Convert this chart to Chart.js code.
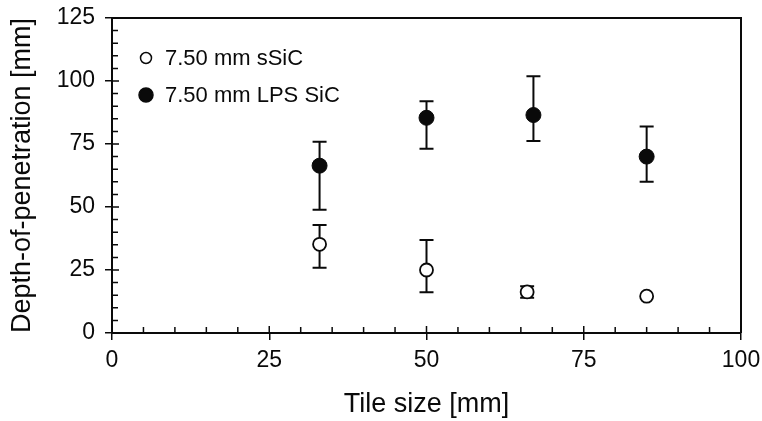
<!DOCTYPE html>
<html>
<head>
<meta charset="utf-8">
<script src="https://cdn.jsdelivr.net/npm/chart.js@4.4.0/dist/chart.umd.min.js"></script>
<style>
  html, body { margin: 0; padding: 0; background: #fff; }
  #wrap { width: 762px; height: 421px; }
</style>
</head>
<body>
<div id="wrap"><canvas id="myChart"></canvas></div>
<script>
// values
const sSiCLabel = '7.50 mm sSiC'
const sSiCTile = [33, 50, 66, 85]
const sSiCDop = [35.2, 25.0, 16.3, 14.6]
const sSiCHigh = [42.9, 36.9, 18.6, 14.6]
const sSiCLow = [25.9, 16.2, 14.0, 14.6]

const lpsLabel = '7.50 mm LPS SiC'
const lpsTile = [33, 50, 67, 85]
const lpsDop = [66.4, 85.4, 86.5, 70.0]
const lpsHigh = [75.9, 92.0, 101.9, 81.9]
const lpsLow = [48.9, 73.1, 76.2, 60.0]

const xTicks = [0, 25, 50, 75, 100]
const yTicks = [0, 25, 50, 75, 100, 125]
const minorStep = 5

const FONT = '"Liberation Sans", Arial, Helvetica, sans-serif'
const INK = '#0a0a0a'

const toPoints = function (xs, ys) {
    return xs.map((x, i) => ({ x: x, y: ys[i] }))
}

// error bars, drawn under the markers
const errorBars = {
    id: 'errorBars',
    beforeDatasetsDraw(chart) {
        const ctx = chart.ctx
        const xs = chart.scales.x
        const ys = chart.scales.y
        const sets = [
            [sSiCTile, sSiCHigh, sSiCLow],
            [lpsTile, lpsHigh, lpsLow]
        ]
        ctx.save()
        ctx.strokeStyle = INK
        ctx.lineWidth = 2
        sets.forEach(function (s) {
            s[0].forEach(function (x, i) {
                if (s[1][i] === s[2][i]) return
                const px = xs.getPixelForValue(x)
                const top = ys.getPixelForValue(s[1][i])
                const bot = ys.getPixelForValue(s[2][i])
                ctx.beginPath()
                ctx.moveTo(px, top)
                ctx.lineTo(px, bot)
                ctx.moveTo(px - 7, top)
                ctx.lineTo(px + 7, top)
                ctx.moveTo(px - 7, bot)
                ctx.lineTo(px + 7, bot)
                ctx.stroke()
            })
        })
        ctx.restore()
    }
}

// box on top/right and the inner minor ticks
const frame = {
    id: 'frame',
    afterDraw(chart) {
        const ctx = chart.ctx
        const a = chart.chartArea
        const xs = chart.scales.x
        const ys = chart.scales.y
        ctx.save()
        ctx.strokeStyle = INK
        ctx.lineWidth = 2
        ctx.beginPath()
        ctx.moveTo(a.left, a.top)
        ctx.lineTo(a.right, a.top)
        ctx.lineTo(a.right, a.bottom)
        ctx.stroke()

        ctx.lineWidth = 1.5
        ctx.beginPath()
        for (let v = xs.min; v <= xs.max; v += minorStep) {
            const px = xs.getPixelForValue(v)
            const len = v % 25 === 0 ? 7 : 6
            ctx.moveTo(px, a.bottom)
            ctx.lineTo(px, a.bottom - len)
        }
        for (let v = ys.min; v <= ys.max; v += minorStep) {
            const py = ys.getPixelForValue(v)
            const len = v % 25 === 0 ? 7 : 6
            ctx.moveTo(a.left, py)
            ctx.lineTo(a.left + len, py)
        }
        ctx.stroke()
        ctx.restore()
    }
}

// legend in the upper-left corner of the plot
const cornerLegend = {
    id: 'cornerLegend',
    afterDraw(chart) {
        const ctx = chart.ctx
        const a = chart.chartArea
        const items = [
            { text: sSiCLabel, fill: '#fff', r: 5.5, dy: 40 },
            { text: lpsLabel, fill: INK, r: 7, dy: 77 }
        ]
        ctx.save()
        ctx.font = '22px ' + FONT
        ctx.textBaseline = 'middle'
        items.forEach(function (it) {
            const cx = a.left + 34
            const cy = a.top + it.dy
            ctx.beginPath()
            ctx.arc(cx, cy, it.r, 0, Math.PI * 2)
            ctx.fillStyle = it.fill
            ctx.fill()
            ctx.lineWidth = 1.5
            ctx.strokeStyle = INK
            ctx.stroke()
            ctx.fillStyle = INK
            ctx.fillText(it.text, a.left + 53, cy + 1)
        })
        ctx.restore()
    }
}

const _init = function () {
    const pointer = document.getElementById('myChart').getContext('2d')
    return new Chart(pointer, {
        type: 'scatter',
        data: {
            datasets: [
                {
                    label: sSiCLabel,
                    data: toPoints(sSiCTile, sSiCDop),
                    pointRadius: 6.5,
                    pointBackgroundColor: '#fff',
                    pointBorderColor: INK,
                    pointBorderWidth: 1.8
                },
                {
                    label: lpsLabel,
                    data: toPoints(lpsTile, lpsDop),
                    pointRadius: 7.5,
                    pointBackgroundColor: INK,
                    pointBorderColor: INK,
                    pointBorderWidth: 1
                }
            ]
        },
        options: {
            responsive: true,
            maintainAspectRatio: false,
            animation: false,
            events: [],
            layout: { padding: { top: 18, right: 21, left: 0, bottom: 0 } },
            plugins: {
                legend: { display: false },
                tooltip: { enabled: false }
            },
            scales: {
                x: {
                    type: 'linear',
                    min: 0,
                    max: 100,
                    afterBuildTicks: s => { s.ticks = xTicks.map(v => ({ value: v })) },
                    afterFit: s => { s.height = 88; s.paddingLeft = 0; s.paddingRight = 0 },
                    grid: { drawOnChartArea: false, tickLength: 7, color: INK, lineWidth: 1.5 },
                    border: { color: INK, width: 2 },
                    ticks: { color: INK, font: { family: FONT, size: 23 }, padding: 7, maxRotation: 0 },
                    title: {
                        display: true,
                        text: 'Tile size [mm]',
                        color: INK,
                        font: { family: FONT, size: 27 },
                        padding: { top: 0, bottom: 0 }
                    }
                },
                y: {
                    type: 'linear',
                    min: 0,
                    max: 125,
                    afterBuildTicks: s => { s.ticks = yTicks.map(v => ({ value: v })) },
                    afterFit: s => { s.width = 112; s.paddingTop = 0; s.paddingBottom = 0 },
                    grid: { drawOnChartArea: false, tickLength: 7, color: INK, lineWidth: 1.5 },
                    border: { color: INK, width: 2 },
                    ticks: { color: INK, font: { family: FONT, size: 23 }, padding: 10 },
                    title: {
                        display: true,
                        text: 'Depth-of-penetration [mm]',
                        color: INK,
                        font: { family: FONT, size: 27 },
                        padding: { top: 6, bottom: 0 }
                    }
                }
            }
        },
        plugins: [errorBars, frame, cornerLegend]
    })
}

_init()
</script>
</body>
</html>
